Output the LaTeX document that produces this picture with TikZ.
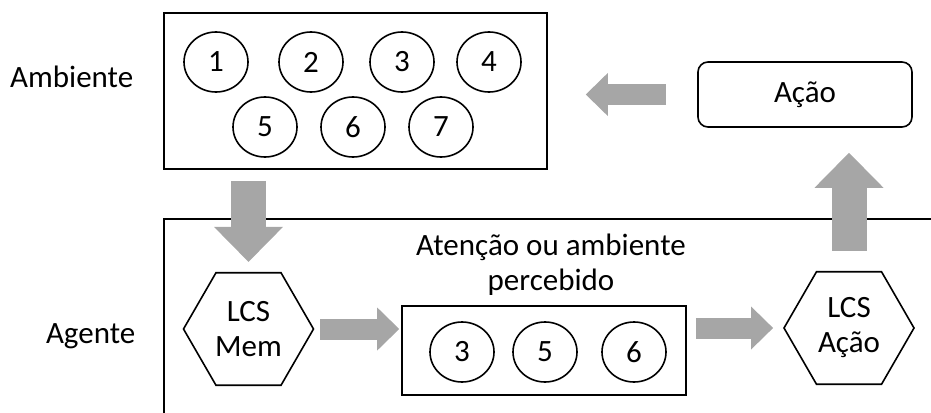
\documentclass[tikz,border=0pt]{standalone}
\usepackage{fontspec}
\setmainfont{Carlito}
\usetikzlibrary{shapes.geometric,arrows.meta}
\definecolor{arrgray}{HTML}{A6A6A6}
\begin{document}
\begin{tikzpicture}[x=1pt,y=-1pt,line width=1.6pt,inner sep=0pt,
	font=\fontsize{31}{35}\selectfont,
	bubble/.style={draw,ellipse,minimum width=64pt,minimum height=60pt},
	hexa/.style={draw,regular polygon,regular polygon sides=6,minimum size=130pt,align=center},
	smallarr/.style={arrgray,line width=21pt,-{Triangle[length=22pt,width=43pt,line width=0pt]}},
	bigarr/.style={arrgray,line width=35pt,-{Triangle[length=35pt,width=69pt,line width=0pt]}}]
\useasboundingbox (0,0) rectangle (931,412);
\clip (0,0) rectangle (931,412);
	%boxes
	\node[draw,minimum width=383pt,minimum height=156pt] (amb) at (355.5,91) {};
	\node[draw,minimum width=836pt,minimum height=241pt] (agt) at (582,339.5) {};
	\node[draw,minimum width=284pt,minimum height=89pt] (att) at (544,350.5) {};
	\node[draw,rounded corners=10pt,minimum width=214pt,minimum height=65pt] (acao) at (805,94.5) {Ação};
	\node[hexa] (mem) at (248.5,329) {LCS\\Mem};
	\node[hexa] (aca) at (849,328) {LCS\\Ação};
	%elements
	\foreach \n/\x/\y in {1/216/62,2/311/62,3/402/62,4/489/62,5/265/127,6/353/127,7/441/127}
		\node[bubble] (c\n) at (\x,\y) {\n};
	\foreach \n/\x in {3/462,5/545,6/634}
		\node[bubble] (p\n) at (\x,352) {\n};
%labels
\node[anchor=base east] (lamb) at (134,87) {Ambiente};
\node[anchor=base east] (lagt) at (136,343) {Agente};
\node[align=center] (ttl) at (551,265) {Atenção ou ambiente\\percebido};

\draw[bigarr,shorten <=11pt,shorten >=10pt] (amb.south -| mem.north) -- (mem.north);
\draw[smallarr,shorten <=6pt,shorten >=2pt] (mem.east) -- (mem.east -| att.west);
\draw[smallarr,shorten <=9pt,shorten >=10pt] (aca.west -| att.east) -- (aca.west);
\draw[bigarr,shorten <=20pt,shorten >=25pt] (aca.north) -- (aca.north |- acao.south);
\draw[smallarr,shorten <=31pt,shorten >=38pt] (acao.west) -- (acao.west -| amb.east);
\end{tikzpicture}
\end{document}
